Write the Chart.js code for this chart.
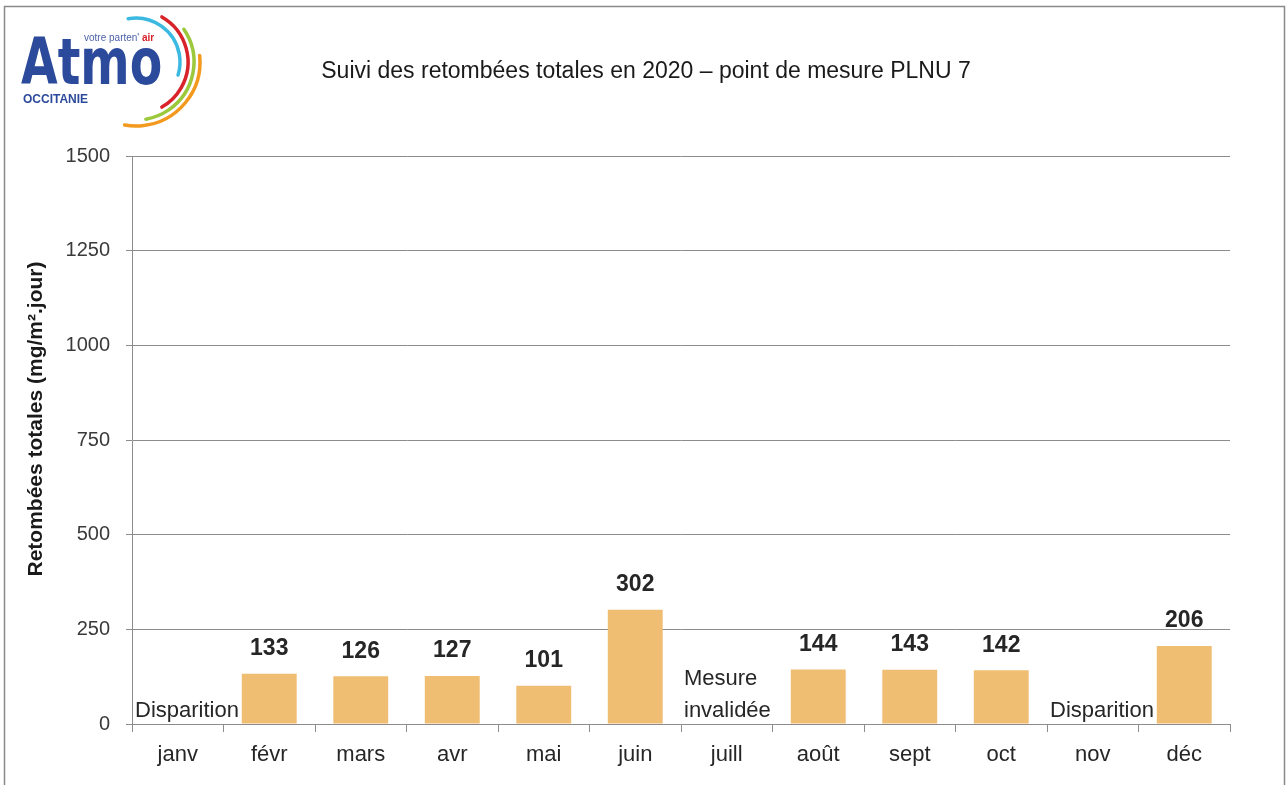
<!DOCTYPE html>
<html>
<head>
<meta charset="utf-8">
<script src="https://cdn.jsdelivr.net/npm/chart.js@4.4.1/dist/chart.umd.min.js"></script>
<style>
  body { margin: 0; background: #fff; }
  #wrap { width: 1288px; height: 785px; position: relative; }
</style>
</head>
<body>
<div id="wrap"><canvas id="myChart" width="1288" height="785"></canvas></div>
<script>
// monthly totals, null = no valid measure
const months = ['janv', 'févr', 'mars', 'avr', 'mai', 'juin', 'juill', 'août', 'sept', 'oct', 'nov', 'déc'];
const retombees = [null, 133, 126, 127, 101, 302, null, 144, 143, 142, null, 206];
const notes = [['Disparition'], null, null, null, null, null, ['Mesure', 'invalidée'], null, null, null, ['Disparition'], null];
const yTicks = [0, 250, 500, 750, 1000, 1250, 1500];

const font = "'Liberation Sans', Arial, sans-serif";
const ctx = document.getElementById('myChart').getContext('2d');

// frame, logo, title and y axis caption
const decor = {
  id: 'decor',
  beforeDraw(chart) {
    const c = chart.ctx;
    c.save();
    c.fillStyle = '#fff';
    c.fillRect(0, 0, chart.width, chart.height);
    c.strokeStyle = '#8a8a8a';
    c.lineWidth = 1.5;
    c.strokeRect(4.5, 6.5, 1280, 790);

    // logo arcs
    const arcs = [
      ['#3cb9e0', 44, -1.75, 0.3],
      ['#d8232a', 52, -1.05, 1.05],
      ['#9cc83c', 58, -0.6, 1.4],
      ['#f39a1e', 64, -0.1, 1.75]
    ];
    c.lineCap = 'round';
    arcs.forEach(a => {
      c.beginPath();
      c.strokeStyle = a[0];
      c.lineWidth = 3.5;
      c.arc(136, 62, a[1], a[2], a[3]);
      c.stroke();
    });

    c.fillStyle = '#2c4a9b';
    c.save();
    c.translate(21, 84);
    c.scale(0.74, 1);
    c.font = "bold 64px 'DejaVu Sans', sans-serif";
    c.fillText('Atmo', 0, 0);
    c.restore();
    c.font = '10px ' + font;
    c.fillStyle = '#4a5fa8';
    c.fillText("votre parten'", 84, 41);
    c.font = 'bold 10px ' + font;
    c.fillStyle = '#d8232a';
    c.fillText('air', 142, 41);
    c.fillStyle = '#2c4a9b';
    c.font = 'bold 12px ' + font;
    c.fillText('OCCITANIE', 23, 103);

    // title
    c.fillStyle = '#1a1a1a';
    c.font = '23px ' + font;
    c.textAlign = 'center';
    c.textBaseline = 'middle';
    c.fillText('Suivi des retombées totales en 2020 – point de mesure PLNU 7', 646, 72);

    // y axis caption
    c.translate(36, 419);
    c.rotate(-Math.PI / 2);
    c.font = 'bold 21px ' + font;
    c.fillText('Retombées totales (mg/m².jour)', 0, 0);
    c.restore();
  }
};

// value labels above bars and notes for missing months
const labels = {
  id: 'labels',
  afterDatasetsDraw(chart) {
    const c = chart.ctx;
    const x = chart.scales.x;
    const y = chart.scales.y;
    const meta = chart.getDatasetMeta(0);
    const band = x.width / months.length;
    c.save();
    c.fillStyle = '#262626';
    c.textAlign = 'center';
    c.textBaseline = 'middle';
    c.font = 'bold 23px ' + font;
    retombees.forEach((v, i) => {
      if (v === null) return;
      c.fillText(v, meta.data[i].x, y.getPixelForValue(v) - 25);
    });
    c.font = '22px ' + font;
    c.textAlign = 'left';
    c.textBaseline = 'alphabetic';
    notes.forEach((lines, i) => {
      if (!lines) return;
      const left = x.getPixelForValue(i) - band / 2 + 3;
      lines.forEach((t, k) => {
        c.fillText(t, left, y.getPixelForValue(0) - 7 - (lines.length - 1 - k) * 32);
      });
    });
    c.restore();
  }
};

const myChart = new Chart(ctx, {
  type: 'bar',
  data: {
    labels: months,
    datasets: [{
      label: 'Retombées totales',
      data: retombees,
      backgroundColor: '#efbe72',
      barPercentage: 0.6,
      categoryPercentage: 1
    }]
  },
  options: {
    responsive: false,
    animation: false,
    layout: { padding: { left: 14, right: 58, top: 156, bottom: 0 } },
    plugins: {
      legend: { display: false },
      tooltip: { enabled: false }
    },
    scales: {
      x: {
        grid: { offset: true, drawOnChartArea: false, color: '#8c8c8c', tickLength: 8 },
        border: { color: '#8c8c8c' },
        ticks: { color: '#262626', padding: 10, font: { family: font, size: 22 } },
        afterFit(s) { s.height = 785 - 724; }
      },
      y: {
        min: 0,
        max: 1500,
        afterBuildTicks(s) { s.ticks = yTicks.map(v => ({ value: v })); },
        grid: { color: '#8c8c8c', tickLength: 6 },
        border: { color: '#8c8c8c' },
        ticks: {
          color: '#3a3a3a',
          padding: 16,
          font: { family: font, size: 20 },
          callback: v => String(v)
        },
        afterFit(s) { s.width = 132 - 14; }
      }
    }
  },
  plugins: [decor, labels]
});
</script>
</body>
</html>
